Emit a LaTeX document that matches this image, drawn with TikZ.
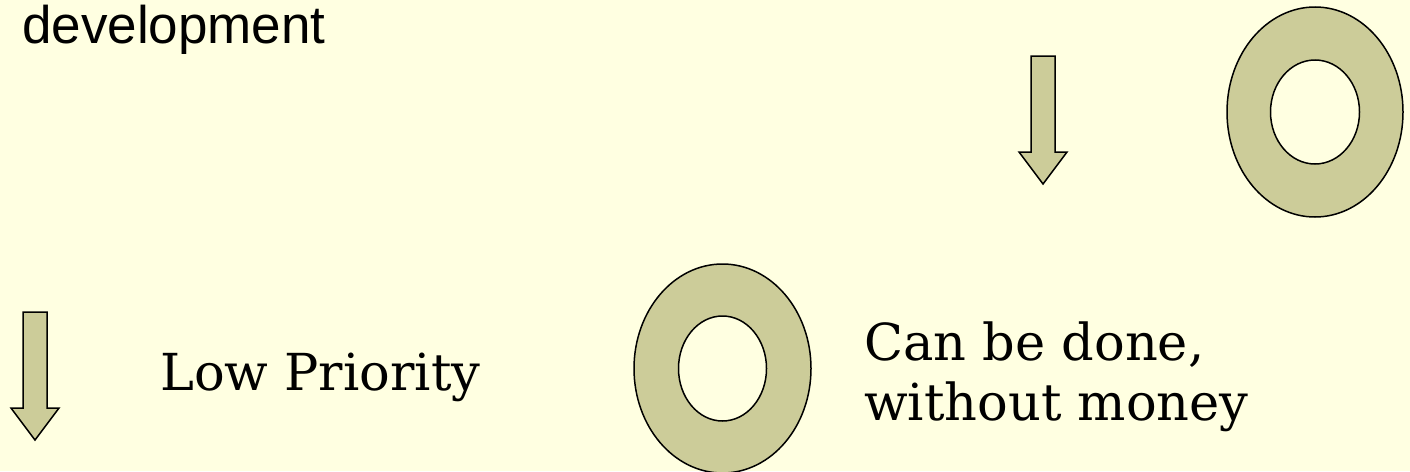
\documentclass[tikz,border=0pt]{standalone}
\usepackage{fontspec}
\setmainfont{DejaVu Serif}
\newfontfamily\arialfont{Liberation Sans}
\definecolor{bgyellow}{HTML}{FFFFE1}
\definecolor{olivefill}{HTML}{CCCC99}
\begin{document}
\begin{tikzpicture}[x=1pt,y=-1pt,
  shapeline/.style={draw=black,line width=1.5pt,fill=olivefill,line join=miter},
  donut/.style={shapeline,even odd rule},
  serifbig/.style={inner sep=0pt,font=\fontsize{51}{60}\selectfont},
]
\fill[bgyellow] (0,0) rectangle (1410,471);
\useasboundingbox (0,0) rectangle (1410,471);
% heading text
\node[anchor=base west,inner sep=0pt,font=\arialfont\fontsize{53}{60}\selectfont] (dev) at (22,43) {development};
% top-right arrow
\draw[shapeline] (1031,56) -- (1055,56) -- (1055,152) -- (1067,152) -- (1043,184) -- (1019,152) -- (1031,152) -- cycle;
% top-right donut
\draw[donut] (1315,112) ellipse [x radius=88,y radius=105] (1315,112) ellipse [x radius=44.5,y radius=52];
% bottom-left arrow
\draw[shapeline] (23,312) -- (47,312) -- (47,408) -- (59,408) -- (35,440) -- (11,408) -- (23,408) -- cycle;
% bottom donut
\draw[donut] (722.5,368.5) ellipse [x radius=88.5,y radius=104.5] (722.5,368.5) ellipse [x radius=44,y radius=52.5];
% texts
\node[serifbig,anchor=base west] (low) at (160,390) {Low Priority};
\node[serifbig,anchor=base west] (can1) at (864,360) {Can be done,};
\node[serifbig,anchor=base west] (can2) at (864,420) {without money};
\end{tikzpicture}
\end{document}
